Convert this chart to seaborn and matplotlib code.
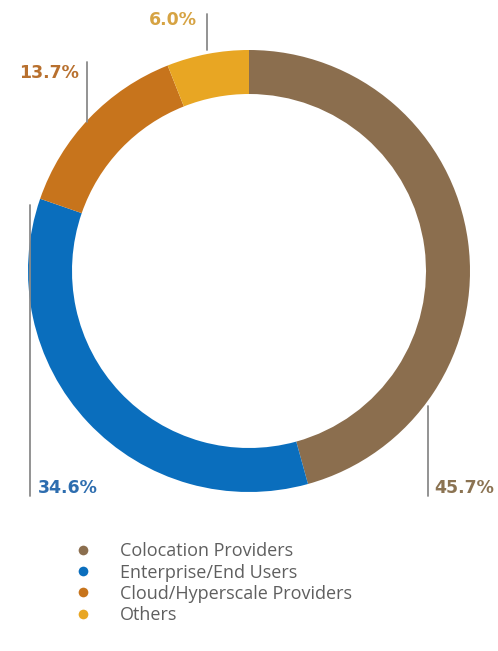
import matplotlib.pyplot as plt
import seaborn as sns
from matplotlib.lines import Line2D

# data
segmentos = ["Colocation Providers", "Enterprise/End Users",
             "Cloud/Hyperscale Providers", "Others"]
porcentajes = [45.7, 34.6, 13.7, 6.0]
colores = ["#8B6E4E", "#0A6EBD", "#C7741C", "#E8A623"]
colores_texto = ["#8B7352", "#2D6DAF", "#B8702E", "#D6A343"]

sns.set_theme(style="white")
plt.rcParams['font.family'] = ['Open Sans', 'DejaVu Sans']

fig = plt.figure(figsize=(4.98, 6.51), dpi=100)
ax = fig.add_axes([0, 0, 1, 1])

# eje y invertido: startangle 270 = arriba, counterclock=True = sentido horario visual
ax.pie(porcentajes, colors=colores, startangle=270, counterclock=True,
       center=(249, 271), radius=221, frame=True,
       wedgeprops=dict(width=44, linewidth=0))
ax.set_xlim(0, 498)
ax.set_ylim(651, 0)
ax.set_aspect("equal")
ax.axis("off")

# etiquetas con lineas guia
gris = "#8a8a8a"
etiquetas = [
    # (x linea, y0, y1, x texto, y texto, ha)
    (428, 406, 496, 434, 488, "left"),
    (30, 205, 496, 38, 488, "left"),
    (87, 62, 122, 79, 73, "right"),
    (207, 14, 50, 197, 20, "right"),
]
for (xl, y0, y1, xt, yt, ha), p, c in zip(etiquetas, porcentajes, colores_texto):
    ax.plot([xl, xl], [y0, y1], color=gris, lw=1.3)
    ax.text(xt, yt, f"{p:.1f}%", color=c, fontsize=12.5, fontweight="bold",
            family="DejaVu Sans", ha=ha, va="center")

handles = [Line2D([0], [0], marker="o", color="w", markerfacecolor=c,
                  markersize=8) for c in colores]
ax.legend(handles, segmentos, loc="upper left", bbox_to_anchor=(0.115, 0.192),
          frameon=False, fontsize=13, labelcolor="#5f5f5f",
          handletextpad=1.55, labelspacing=0.18, handlelength=1.0)

plt.savefig("out.png", dpi=100)
